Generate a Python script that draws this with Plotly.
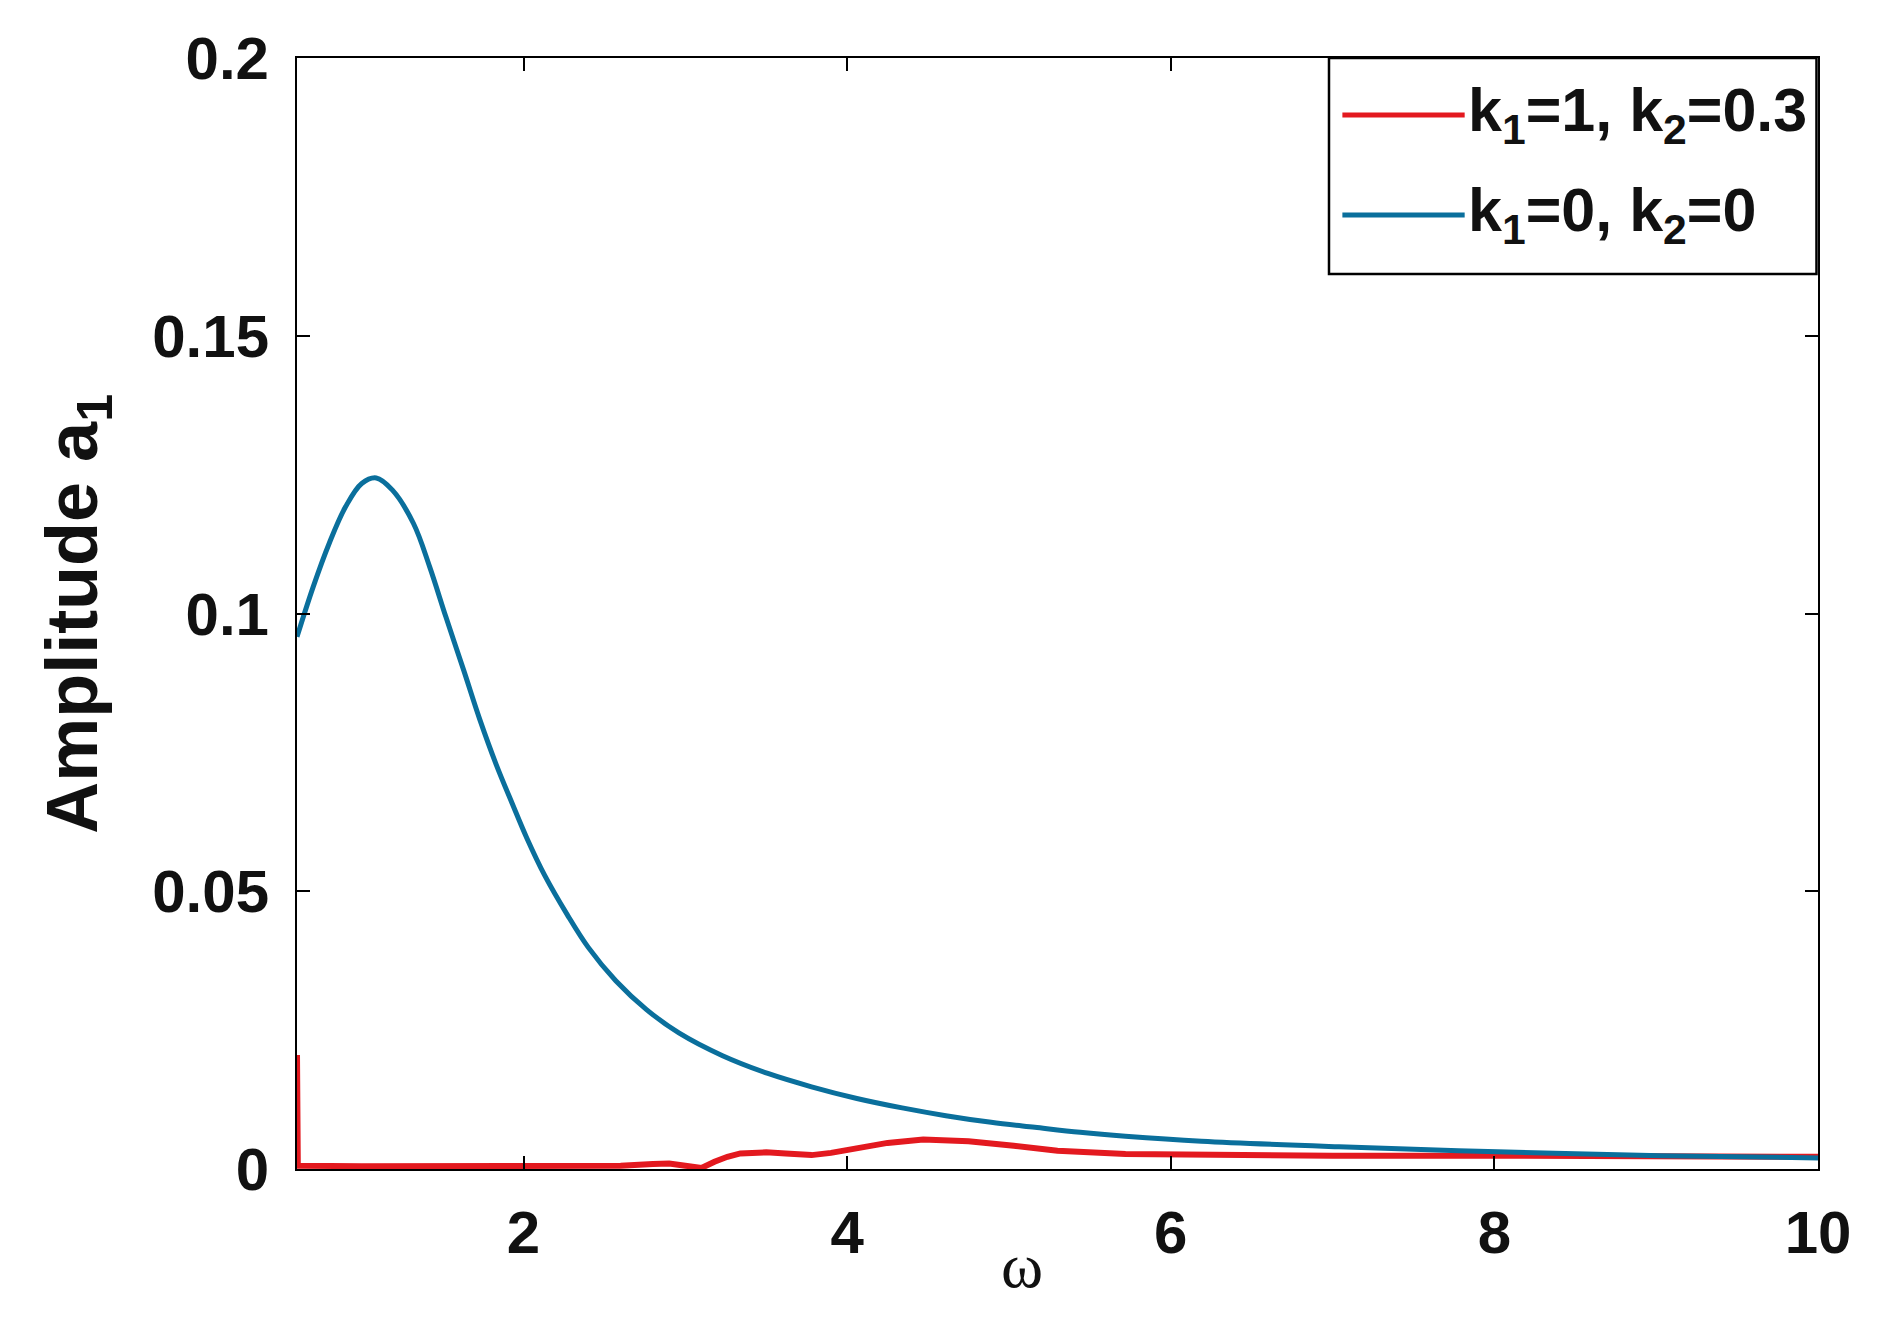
import plotly.graph_objects as go

# values
w_blue = [0.6, 0.7, 0.8, 0.9, 1.0, 1.09, 1.19, 1.32, 1.42, 1.52, 1.63, 1.73, 1.83, 1.93,
          2.02, 2.13, 2.27, 2.4, 2.57, 2.76, 2.96, 3.23, 3.51, 3.78, 4.06, 4.34, 4.61,
          4.89, 5.16, 5.44, 5.72, 6.19, 7.04, 8.02, 9.03, 10.0]
a_blue = [0.0958, 0.1048, 0.1127, 0.1192, 0.1234, 0.1244, 0.1222, 0.1162, 0.1084, 0.0994,
          0.0898, 0.0809, 0.0729, 0.0658, 0.0596, 0.0529, 0.0458, 0.0399, 0.0339, 0.0287,
          0.0245, 0.0204, 0.0172, 0.0148, 0.0127, 0.0110, 0.0096, 0.0084, 0.0075, 0.0066,
          0.0059, 0.0050, 0.0040, 0.0031, 0.0024, 0.0020]

w_red = [0.6, 0.605, 1.0, 2.0, 2.6, 2.8, 2.9, 3.0, 3.1, 3.18, 3.26, 3.34, 3.5, 3.62, 3.78,
         3.9, 4.03, 4.25, 4.47, 4.75, 5.03, 5.3, 5.72, 6.18, 7.0, 8.0, 9.0, 10.0]
a_red = [0.0205, 0.0006, 0.0005, 0.0005, 0.0006, 0.0009, 0.0010, 0.0006, 0.0002, 0.0013,
         0.0022, 0.0028, 0.0030, 0.0028, 0.0025, 0.0029, 0.0036, 0.0047, 0.0053, 0.0050,
         0.0042, 0.0033, 0.0027, 0.0025, 0.0024, 0.0024, 0.0023, 0.0022]

names = ['k<sub>1</sub>=1, k<sub>2</sub>=0.3', 'k<sub>1</sub>=0, k<sub>2</sub>=0']
colors = ['#e3191f', '#0a6f9c']

x_ticks = [2, 4, 6, 8, 10]
y_ticks = [0, 0.05, 0.1, 0.15, 0.2]
y_ticktext = ['0', '0.05', '0.1', '0.15', '0.2']

fnt = 'Liberation Sans, Arial, Helvetica, sans-serif'

fig = go.Figure()
fig.add_trace(go.Scatter(x=w_red, y=a_red, mode='lines', name=names[0],
                         line=dict(color=colors[0], width=6)))
fig.add_trace(go.Scatter(x=w_blue, y=a_blue, mode='lines', name=names[1],
                         line=dict(color=colors[1], width=5, shape='spline', smoothing=1.0)))

axis_common = dict(showgrid=False, zeroline=False, showline=True, linecolor='black',
                   linewidth=2, mirror='ticks', ticks='inside', ticklen=13, tickwidth=2,
                   tickcolor='black',
                   tickfont=dict(family=fnt, size=60, color='#111', weight='bold'))

fig.update_layout(
    width=1898, height=1328,
    margin=dict(l=289, r=88, t=50, b=167),
    paper_bgcolor='white', plot_bgcolor='white',
    showlegend=False,
    xaxis=dict(range=[0.6, 10], tickvals=x_ticks, ticklabelstandoff=10, **axis_common),
    yaxis=dict(range=[0, 0.2], tickvals=y_ticks, ticktext=y_ticktext,
               ticklabelstandoff=14, **axis_common),
)

# axis titles
fig.add_annotation(text='Amplitude a<sub>1</sub>', xref='paper', yref='paper',
                   x=-0.1444, y=0.5, textangle=-90, showarrow=False,
                   xanchor='center', yanchor='middle',
                   font=dict(family=fnt, size=72, color='#111', weight='bold'))
fig.add_annotation(text='ω', xref='paper', yref='paper', x=0.4765, y=-0.087,
                   showarrow=False, xanchor='center', yanchor='middle',
                   font=dict(family='Liberation Serif, Times New Roman, serif', size=64, color='#111'))

# legend box drawn by hand so the line samples are as long as in the original
fig.add_shape(type='rect', xref='paper', yref='paper', x0=0.6785, x1=0.999, y0=0.8056, y1=1.0,
              line=dict(color='black', width=2.5), fillcolor='white')
leg_y = [0.9487, 0.8587]
for nm, col, yy in zip(names, colors, leg_y):
    fig.add_shape(type='line', xref='paper', yref='paper', x0=0.6873, x1=0.7677, y0=yy, y1=yy,
                  line=dict(color=col, width=5))
    fig.add_annotation(text=nm, xref='paper', yref='paper', x=0.7685, y=yy, showarrow=False,
                       xanchor='left', yanchor='middle',
                       font=dict(family=fnt, size=61, color='#111', weight='bold'))

fig.write_html('out.html')
